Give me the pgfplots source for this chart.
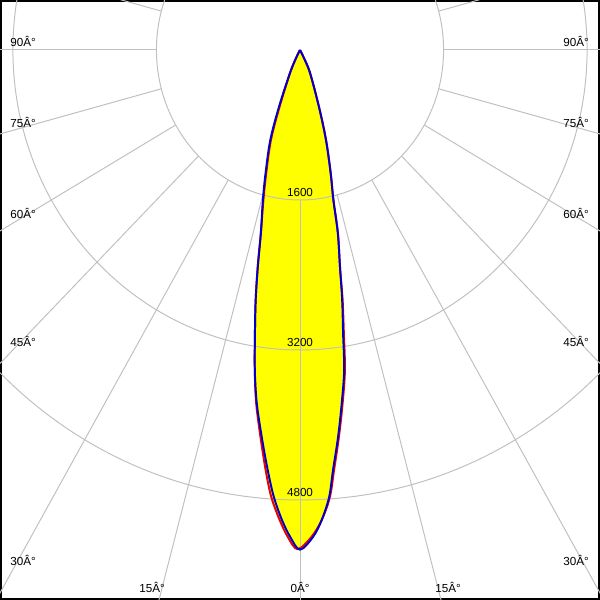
\documentclass[border=0pt]{standalone}
\usepackage{fontspec}
\setmainfont{Liberation Sans}
\usepackage{pgfplots}
\usepackage{pgfplotstable}
\pgfplotsset{compat=1.18}

\definecolor{gridgray}{RGB}{192,192,192}
\definecolor{curvered}{RGB}{235,0,0}
\definecolor{curveblue}{RGB}{0,0,200}
\definecolor{fillyellow}{RGB}{255,255,0}

% angle (deg from nadir, left negative), intensity (cd)
\pgfplotstableread{
a I
-29 0
-27 100
-24.5 270
-21.1 652
-19.0 1017
-16.3 1366
-14.5 1652
-12.6 2000
-11.5 2362
-10.5 2712
-9.45 3060
-8.4 3450
-7.3 3796
-5.9 4150
-4.6 4494
-3.5 4777
-2.3 5017
-1.2 5196
0 5330
1.6 5197
2.77 5019
3.9 4779
4.7 4495
5.87 4150
7.05 3794
8.2 3449
9.04 3057
10.0 2707
10.9 2357
12.2 1997
13.1 1643
14.6 1356
16.8 1003
19.2 644
24.5 270
27 100
29 0
}\bluecurve

\pgfplotstableread{
a I
-29 0
-27 100
-24.2 270
-20.6 652
-18.6 1017
-16.0 1366
-14.3 1652
-12.6 2000
-11.5 2362
-10.5 2712
-9.45 3060
-8.4 3450
-7.4 3796
-6.1 4150
-4.9 4494
-3.85 4777
-2.6 5017
-1.5 5196
-0.3 5325
1.4 5197
2.77 5019
4.0 4779
4.85 4495
6.0 4150
7.2 3794
8.35 3449
9.2 3057
10.1 2707
10.9 2357
12.2 1997
13.1 1643
14.6 1356
16.8 1003
19.2 644
24.5 270
27 100
29 0
}\redcurve

\tikzset{lbl/.style={font=\fontsize{8.3}{10}\selectfont, inner sep=0pt}}
\pgfplotsset{lobe/.style={smooth, tension=0.55}}

\begin{document}
\begin{tikzpicture}
\begin{axis}[
    name=ax,
    scale only axis,
    width=15cm, height=15cm,
    xmin=-3344, xmax=3344,
    ymin=-5867, ymax=533,
    xtick=\empty, ytick=\empty,
    axis line style={line width=3.5pt},
]
% lobe fill
\addplot[lobe, fill=fillyellow, draw=none] table[x expr=\thisrow{I}*sin(\thisrow{a}), y expr=-\thisrow{I}*cos(\thisrow{a})] {\redcurve};
\addplot[lobe, fill=fillyellow, draw=none] table[x expr=\thisrow{I}*sin(\thisrow{a}), y expr=-\thisrow{I}*cos(\thisrow{a})] {\bluecurve};

% polar grid
\draw[gridgray, line width=0.7pt] (axis cs:0,0) ellipse [x radius=1600, y radius=1600];
\draw[gridgray, line width=0.7pt] (axis cs:0,0) ellipse [x radius=3200, y radius=3200];
\draw[gridgray, line width=0.7pt] (axis cs:0,0) ellipse [x radius=4800, y radius=4800];
\pgfplotsinvokeforeach{0,15,...,345}{
  \draw[gridgray, line width=0.7pt] (axis cs:{1600*sin(#1)},{-1600*cos(#1)}) -- (axis cs:{7000*sin(#1)},{-7000*cos(#1)});
}

% curves
\addplot[lobe, curvered, line width=1.4pt] table[x expr=\thisrow{I}*sin(\thisrow{a}), y expr=-\thisrow{I}*cos(\thisrow{a})] {\redcurve};
\addplot[lobe, curveblue, line width=1.4pt] table[x expr=\thisrow{I}*sin(\thisrow{a}), y expr=-\thisrow{I}*cos(\thisrow{a})] {\bluecurve};

% intensity labels
\node[lbl, anchor=base] at (rel axis cs:0.5,0.6717) {1600};
\node[lbl, anchor=base] at (rel axis cs:0.5,0.4217) {3200};
\node[lbl, anchor=base] at (rel axis cs:0.5,0.1733) {4800};

% angle labels
\node[lbl, anchor=base west] at (rel axis cs:0.0167,0.9233) {90Â°};
\node[lbl, anchor=base west] at (rel axis cs:0.0167,0.7883) {75Â°};
\node[lbl, anchor=base west] at (rel axis cs:0.0167,0.6350) {60Â°};
\node[lbl, anchor=base west] at (rel axis cs:0.0167,0.4233) {45Â°};
\node[lbl, anchor=base west] at (rel axis cs:0.0167,0.0583) {30Â°};
\node[lbl, anchor=base east] at (rel axis cs:0.9817,0.9233) {90Â°};
\node[lbl, anchor=base east] at (rel axis cs:0.9817,0.7883) {75Â°};
\node[lbl, anchor=base east] at (rel axis cs:0.9817,0.6350) {60Â°};
\node[lbl, anchor=base east] at (rel axis cs:0.9817,0.4233) {45Â°};
\node[lbl, anchor=base east] at (rel axis cs:0.9817,0.0583) {30Â°};
\node[lbl, anchor=base west] at (rel axis cs:0.2317,0.0117) {15Â°};
\node[lbl, anchor=base east] at (rel axis cs:0.7683,0.0117) {15Â°};
\node[lbl, anchor=base] at (rel axis cs:0.5,0.0117) {0Â°};
\end{axis}
\pgfresetboundingbox
\path (ax.south west) rectangle (ax.north east);
\end{tikzpicture}
\end{document}
